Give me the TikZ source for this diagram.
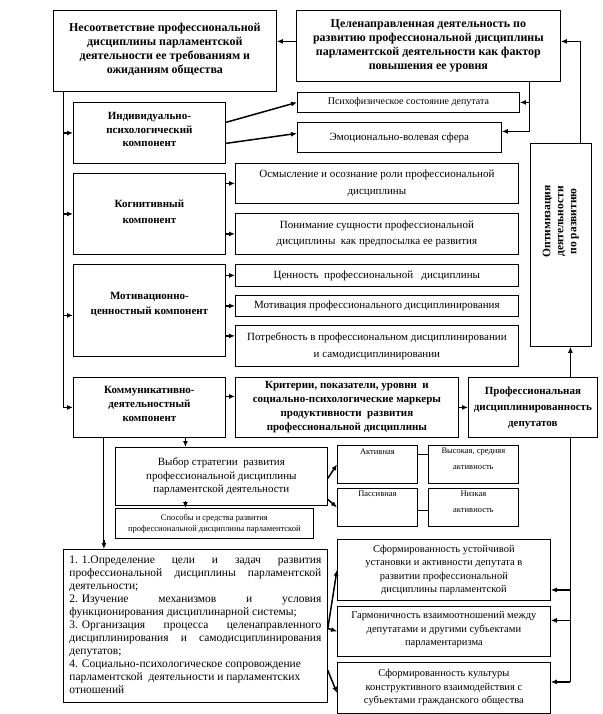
\documentclass[tikz,border=0pt]{standalone}
\usepackage{fontspec}
\setmainfont{Liberation Serif}
\usetikzlibrary{arrows.meta,calc}
\newcommand{\cbox}[4]{\parbox[c][#2][#3]{#1}{\centering #4\par}}
\begin{document}
\begin{tikzpicture}[x=1pt,y=-1pt,
  box/.style={draw, line width=0.8pt, inner sep=0pt, anchor=north west},
  trunk/.style={line width=0.9pt},
  arr/.style={line width=1.5pt, -{Latex[length=6pt,width=5pt]}},
  thinln/.style={line width=0.8pt}]
\useasboundingbox (0,0) rectangle (602,714);
% top boxes
\node[box] (b1) at (53,10) {\cbox{223pt}{81pt}{c}{\bfseries\fontsize{12}{14}\selectfont Несоответствие профессиональной\\ дисциплины парламентской\\ деятельности ее требованиям и\\ ожиданиям общества\\[4pt]}};
\node[box] (b2) at (296,10) {\cbox{264pt}{71pt}{c}{\bfseries\fontsize{12}{14}\selectfont Целенаправленная деятельность по\\ развитию профессиональной дисциплины\\ парламентской деятельности как фактор\\ повышения ее уровня}};
\node[box] (psy) at (297,92) {\cbox{222pt}{20pt}{c}{\fontsize{10}{12}\selectfont Психофизическое состояние депутата}};
\node[box] (emo) at (297,122) {\cbox{204pt}{30pt}{c}{\fontsize{11}{13}\selectfont Эмоционально-волевая сфера}};
% components
\node[box] (ind) at (73,102) {\cbox{152pt}{61pt}{c}{\bfseries\fontsize{11}{13.5}\selectfont Индивидуально-\\ психологический\\ компонент\\[6pt]}};
\node[box] (kog) at (73,173) {\cbox{152pt}{81pt}{c}{\bfseries\fontsize{11}{16}\selectfont Когнитивный\\ компонент\\[4pt]}};
\node[box] (mot) at (73,264) {\cbox{152pt}{92pt}{c}{\bfseries\fontsize{11}{15}\selectfont Мотивационно-\\ ценностный компонент\\[12pt]}};
\node[box] (komm) at (73,377) {\cbox{152pt}{60pt}{c}{\bfseries\fontsize{11}{14}\selectfont Коммуникативно-\\ деятельностный\\ компонент\\[6pt]}};
% right of components
\node[box] (osm) at (235,163) {\cbox{283pt}{40pt}{c}{\fontsize{11}{17}\selectfont Осмысление и осознание роли профессиональной\\ дисциплины}};
\node[box] (pon) at (235,213) {\cbox{283pt}{41pt}{c}{\fontsize{11}{15.5}\selectfont Понимание сущности профессиональной\\ дисциплины\ \ как предпосылка ее развития}};
\node[box] (cen) at (235,264) {\cbox{283pt}{22pt}{c}{\fontsize{11}{13}\selectfont Ценность\ \ профессиональной\ \ \ дисциплины}};
\node[box] (motiv) at (235,295) {\cbox{283pt}{21pt}{c}{\fontsize{11}{13}\selectfont Мотивация профессионального дисциплинирования}};
\node[box] (potr) at (235,325) {\cbox{283pt}{41pt}{c}{\fontsize{11}{17}\selectfont Потребность в профессиональном дисциплинировании\\ и самодисциплинировании}};
\node[box] (opt) at (530,143) {\parbox[c][203pt][t]{61pt}{\centering\vspace*{38pt}\rotatebox{90}{\parbox{80pt}{\centering\bfseries\fontsize{11.5}{13}\selectfont Оптимизация\\ деятельности\\ по развитию}}\par}};
% middle row
\node[box] (crit) at (235,377) {\cbox{223pt}{60pt}{c}{\bfseries\fontsize{11}{14}\selectfont Критерии, показатели, уровни\ \ и\\ социально-психологические маркеры\\ продуктивности\ \ развития\\ профессиональной дисциплины}};
\node[box] (prof) at (468,377) {\cbox{129pt}{60pt}{c}{\bfseries\fontsize{11}{16}\selectfont Профессиональная\\ дисциплинированность\\ депутатов}};
% strategy
\node[box] (vyb) at (115,447) {\cbox{212pt}{58pt}{c}{\fontsize{11}{13.5}\selectfont Выбор стратегии\ \ развития\\ профессиональной дисциплины\\ парламентской деятельности}};
\node[box] (spos) at (115,508) {\cbox{198pt}{30pt}{c}{\fontsize{8.5}{11}\selectfont Способы и средства развития\\ профессиональной дисциплины парламентской}};
\node[box] (akt) at (337,445) {\cbox{80pt}{38pt}{t}{\vspace*{3pt}\fontsize{8.5}{16}\selectfont Активная}};
\node[box] (pass) at (337,488) {\cbox{80pt}{38pt}{t}{\vspace*{3pt}\fontsize{8.5}{16}\selectfont Пассивная}};
\node[box] (vys) at (428,445) {\cbox{90pt}{38pt}{t}{\vspace*{3pt}\fontsize{8.5}{16}\selectfont Высокая, средняя\\ активность}};
\node[box] (niz) at (428,488) {\cbox{90pt}{38pt}{t}{\vspace*{3pt}\fontsize{8.5}{16}\selectfont Низкая\\ активность}};
% list
\node[box] (list) at (63,549) {\parbox[c][153pt][t]{264pt}{\centering\vspace*{6pt}\parbox{252pt}{\fontsize{11.5}{13}\selectfont
\makebox[252pt][s]{\mbox{1. 1.Определение} цели и задач развития}\\
\makebox[252pt][s]{профессиональной дисциплины парламентской}\\
деятельности;\\
\makebox[252pt][s]{\mbox{2. Изучение} механизмов и условия}\\
функционирования дисциплинарной системы;\\
\makebox[252pt][s]{\mbox{3. Организация} процесса целенаправленного}\\
\makebox[252pt][s]{дисциплинирования и самодисциплинирования}\\
депутатов;\\
4. Социально-психологическое сопровождение\\
парламентской\ \ деятельности и парламентских\\
отношений}\par}};
% results
\node[box] (r1) at (337,539) {\cbox{213pt}{61pt}{c}{\fontsize{10.5}{13.5}\selectfont Сформированность устойчивой\\ установки и активности депутата в\\ развитии профессиональной\\ дисциплины парламентской}};
\node[box] (r2) at (337,606) {\cbox{213pt}{50pt}{c}{\fontsize{10.5}{13.5}\selectfont Гармоничность взаимоотношений между\\ депутатами и другими субъектами\\ парламентаризма\\[3pt]}};
\node[box] (r3) at (337,662) {\cbox{213pt}{51pt}{c}{\fontsize{10.5}{13.5}\selectfont Сформированность культуры\\ конструктивного взаимодействия с\\ субъектами гражданского общества}};
% ---- connectors
\coordinate (T) at ([yshift=4.5pt]b2.west);
\draw[arr] (T) -- (T -| b1.east);
\coordinate (OT) at ([xshift=19.5pt]opt.north);
\coordinate (T2) at ([yshift=4.5pt]b2.east);
\draw[trunk] (OT) -- (OT |- T2);
\draw[arr] (OT |- T2) -- (T2);
\coordinate (R0) at ([xshift=-31pt]b2.south east);
\coordinate (E1) at ([yshift=6pt]emo.east);
\draw[trunk] (R0) -- (R0 |- E1);
\draw[arr] (R0 |- E1) -- (E1);
\draw[arr] (R0 |- psy.east) -- (psy.east);
\draw[arr] ([yshift=10.5pt]ind.east) -- (psy.west);
\draw[arr] ([yshift=-10.5pt]ind.east) -- ([yshift=4pt]emo.west);
\coordinate (L0) at ([xshift=10pt]b1.south west);
\draw[trunk] (L0) -- (L0 |- komm.west);
\draw[arr] (L0 |- ind.west) -- (ind.west);
\draw[arr] (L0 |- kog.west) -- (kog.west);
\coordinate (M) at ([yshift=-5pt]mot.west);
\draw[arr] (L0 |- M) -- (M);
\draw[arr] (L0 |- komm.west) -- (komm.west);
\draw[arr] (kog.east |- osm.west) -- (osm.west);
\draw[arr] (kog.east |- pon.west) -- (pon.west);
\draw[arr] (mot.east |- cen.west) -- (cen.west);
\draw[arr] (mot.east |- motiv.west) -- (motiv.west);
\coordinate (P) at ([yshift=10pt]potr.west);
\draw[arr] (mot.east |- P) -- (P);
\coordinate (K) at ([yshift=11pt]crit.west);
\draw[arr] (komm.east |- K) -- (K);
\draw[arr] (crit.east) -- (prof.west);
\coordinate (A) at ([xshift=9.5pt]opt.south);
\draw[arr] (prof.north -| A) -- (A);
\coordinate (P0) at (prof.south -| A);
\coordinate (C1) at ([yshift=-20pt]r1.east);
\coordinate (C2) at ([yshift=11pt]r2.east);
\coordinate (C3) at ([yshift=6pt]r3.east);
\draw[trunk] (P0) -- (P0 |- C3);
\draw[arr] (P0 |- C1) -- (C1);
\draw[arr] (P0 |- C2) -- (C2);
\draw[arr] (P0 |- C3) -- (C3);
\coordinate (V) at ([xshift=-36pt]vyb.north);
\draw[arr] (komm.south -| V) -- (V);
\coordinate (Li) at ([xshift=-91.5pt]list.north);
\draw[trunk] (komm.south -| Li) -- ($(Li)+(0,-8)$);
\draw[arr] ($(Li)+(0,-9)$) -- (Li);
\coordinate (S) at ([xshift=-29pt]spos.north);
\draw[arr] ($(vyb.south -| S)+(0,-5)$) -- (S);
\draw[arr] ([yshift=-2pt]vyb.east) -- (akt.west);
\draw[arr] ([yshift=-23pt]vyb.east) -- (pass.west);
\coordinate (AV) at ([yshift=10pt]akt.east);
\draw[thinln] (AV) -- (AV -| vys.west);
\coordinate (PN) at ([yshift=-3pt]pass.east);
\draw[thinln] (PN) -- (PN -| niz.west);
\coordinate (LE) at ([yshift=-2.5pt]list.east);
\draw[arr] (LE) -- (r1.west);
\draw[arr] (LE) -- (r2.west);
\draw[arr] ([yshift=-44.5pt]list.east) -- ([yshift=-5pt]r3.west);
\end{tikzpicture}
\end{document}
